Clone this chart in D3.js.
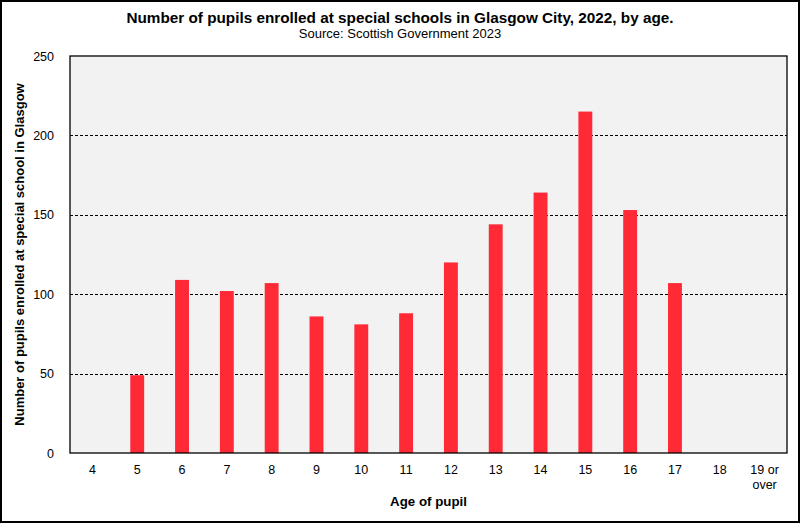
<!DOCTYPE html>
<html><head><meta charset="utf-8">
<script src="https://cdn.jsdelivr.net/npm/d3@7"></script>
<style>body{margin:0;background:#fff}svg{display:block;font-family:"Liberation Sans",Arial,sans-serif}</style>
</head><body><svg id="c" width="800" height="523"></svg>
<script>
const ages = ["4","5","6","7","8","9","10","11","12","13","14","15","16","17","18","19 or over"];
const pupils = [0,49,109,102,107,86,81,88,120,144,164,215,153,107,0,0];
const yTicks = [0,50,100,150,200,250];

const svg = d3.select("#c");
const W=800,H=523;
const m={l:70,r:13,t:56,b:70};
const x=d3.scaleBand().domain(ages).range([m.l,W-m.r]).paddingInner(0.69).paddingOuter(0.345);
const y=d3.scaleLinear().domain([0,250]).range([H-m.b,m.t]);

svg.append("rect").attr("x",1).attr("y",1).attr("width",W-2).attr("height",H-2).attr("fill","#fff").attr("stroke","#000").attr("stroke-width",2);
svg.append("rect").attr("x",m.l).attr("y",m.t).attr("width",W-m.r-m.l).attr("height",H-m.b-m.t).attr("fill","#f2f2f2");

svg.append("g").selectAll("line").data(yTicks.filter(d=>d>0&&d<250)).join("line")
 .attr("x1",m.l).attr("x2",W-m.r).attr("y1",d=>Math.round(y(d))+0.5).attr("y2",d=>Math.round(y(d))+0.5)
 .attr("stroke","#000").attr("stroke-dasharray","3,2").attr("stroke-width",1);

svg.append("g").selectAll("rect").data(ages.map((a,i)=>({a,v:pupils[i]})).filter(d=>d.v>0)).join("rect")
 .attr("x",d=>x(d.a)).attr("width",x.bandwidth()).attr("y",d=>y(d.v)).attr("height",d=>y(0)-y(d.v))
 .attr("fill","#ff2a36");

svg.append("rect").attr("x",m.l).attr("y",m.t).attr("width",W-m.r-m.l).attr("height",H-m.b-m.t).attr("fill","none").attr("stroke","#000").attr("stroke-width",1.3);

const ya=d3.axisLeft(y).tickValues(yTicks).tickSize(0).tickPadding(16);
const yg=svg.append("g").attr("transform",`translate(${m.l},0)`).call(ya);
yg.select(".domain").remove();
yg.selectAll("text").attr("font-size",12.5).attr("fill","#000").attr("font-family","Liberation Sans, Arial, sans-serif");

const xa=d3.axisBottom(x).tickSize(0).tickPadding(10).tickFormat(()=> "");
const xg=svg.append("g").attr("transform",`translate(0,${H-m.b})`).call(xa);
xg.select(".domain").remove();
xg.selectAll(".tick").each(function(d){
  const t=d3.select(this).select("text").text(null).attr("font-size",12.5).attr("fill","#000").attr("font-family","Liberation Sans, Arial, sans-serif").attr("dy",null).attr("y",21);
  const parts = d==="19 or over" ? ["19 or","over"] : [d];
  parts.forEach((p,i)=>t.append("tspan").attr("x",0).attr("dy",i?15:0).text(p));
});

svg.append("text").attr("x",400).attr("y",23).attr("text-anchor","middle").attr("font-weight","bold").attr("font-size",15.3).text("Number of pupils enrolled at special schools in Glasgow City, 2022, by age.");
svg.append("text").attr("x",400).attr("y",38).attr("text-anchor","middle").attr("font-size",13).text("Source: Scottish Government 2023");
svg.append("text").attr("x",(m.l+W-m.r)/2).attr("y",506).attr("text-anchor","middle").attr("font-weight","bold").attr("font-size",13.3).text("Age of pupil");
svg.append("text").attr("transform",`translate(24,${(m.t+H-m.b)/2}) rotate(-90)`).attr("text-anchor","middle").attr("font-weight","bold").attr("font-size",13).text("Number of pupils enrolled at special school in Glasgow");
</script></body></html>
